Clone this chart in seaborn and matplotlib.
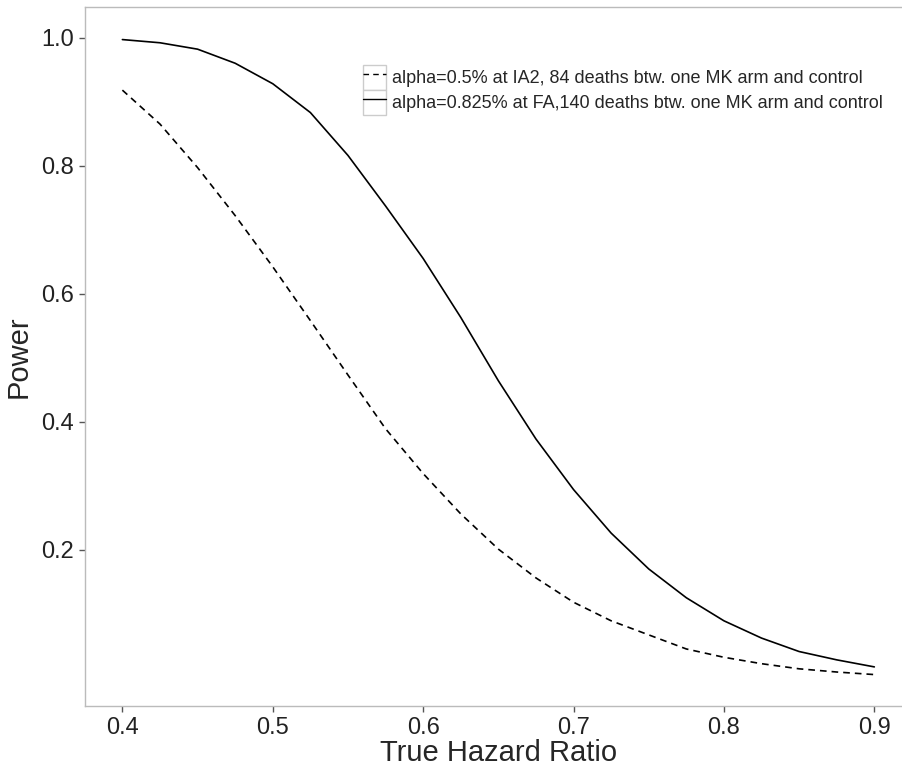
import pandas as pd
import seaborn as sns
from matplotlib import pyplot as plt
from matplotlib.patches import Rectangle
from matplotlib.legend_handler import HandlerTuple

hazard_ratio = [0.400, 0.425, 0.450, 0.475, 0.500, 0.525, 0.550, 0.575, 0.600,
                0.625, 0.650, 0.675, 0.700, 0.725, 0.750, 0.775, 0.800, 0.825,
                0.850, 0.875, 0.900]
power_ia2 = [0.918, 0.865, 0.797, 0.722, 0.642, 0.558, 0.473, 0.389, 0.319,
             0.256, 0.201, 0.156, 0.118, 0.089, 0.067, 0.045, 0.032, 0.022,
             0.014, 0.009, 0.005]
power_fa = [0.997, 0.992, 0.982, 0.960, 0.928, 0.883, 0.816, 0.737, 0.655,
            0.563, 0.464, 0.373, 0.294, 0.226, 0.170, 0.125, 0.089, 0.062,
            0.041, 0.028, 0.017]

label_ia2 = "alpha=0.5% at IA2, 84 deaths btw. one MK arm and control"
label_fa = "alpha=0.825% at FA,140 deaths btw. one MK arm and control"

df = pd.concat([
    pd.DataFrame({"hr": hazard_ratio, "power": power_ia2, "analysis": label_ia2}),
    pd.DataFrame({"hr": hazard_ratio, "power": power_fa, "analysis": label_fa}),
])

sns.set_theme(style="white")
plt.rcParams["font.family"] = ["Liberation Sans", "DejaVu Sans"]

fig = plt.figure(figsize=(9.02, 7.69), dpi=100)
ax = fig.add_axes([0.094, 0.082, 1.011 - 0.094, 0.991 - 0.082])

sns.lineplot(data=df, x="hr", y="power", style="analysis",
             dashes={label_ia2: (4, 3), label_fa: ""},
             color="black", linewidth=1.2, ax=ax)

ax.set_xlim(0.375, 0.925)
ax.set_ylim(-0.044, 1.048)
ax.set_xticks([0.4, 0.5, 0.6, 0.7, 0.8, 0.9])
ax.set_yticks([0.2, 0.4, 0.6, 0.8, 1.0])
ax.set_xticklabels(["0.4", "0.5", "0.6", "0.7", "0.8", "0.9"])
ax.set_yticklabels(["0.2", "0.4", "0.6", "0.8", "1.0"])
ax.tick_params(axis="both", which="major", labelsize=17, length=4, width=1,
               color="#555555", labelcolor="#222222", direction="out",
               bottom=True, left=True, pad=4)

for side in ["left", "bottom", "top"]:
    ax.spines[side].set_color("#bbbbbb")
    ax.spines[side].set_linewidth(1)
ax.spines["right"].set_visible(False)

ax.set_xlabel("True Hazard Ratio", fontsize=21, labelpad=0)
ax.set_ylabel("Power", fontsize=21, labelpad=6)

# legend with a grey key box behind each line, like ggplot
handles, labels = ax.get_legend_handles_labels()
boxed = []
for h in handles:
    h.set_linewidth(1.0)
    box = Rectangle((0, 0), 1, 1, facecolor="white", edgecolor="#cccccc", linewidth=1)
    boxed.append((box, h))
ax.legend(boxed, labels, handler_map={tuple: HandlerTuple(ndivide=1, pad=0)},
          loc="upper left", bbox_to_anchor=(0.336, 0.917), frameon=False,
          fontsize=13, handlelength=1.28, handleheight=1.75, handletextpad=0.33,
          labelspacing=0, borderaxespad=0, borderpad=0)

fig.savefig("out.png", dpi=100)
